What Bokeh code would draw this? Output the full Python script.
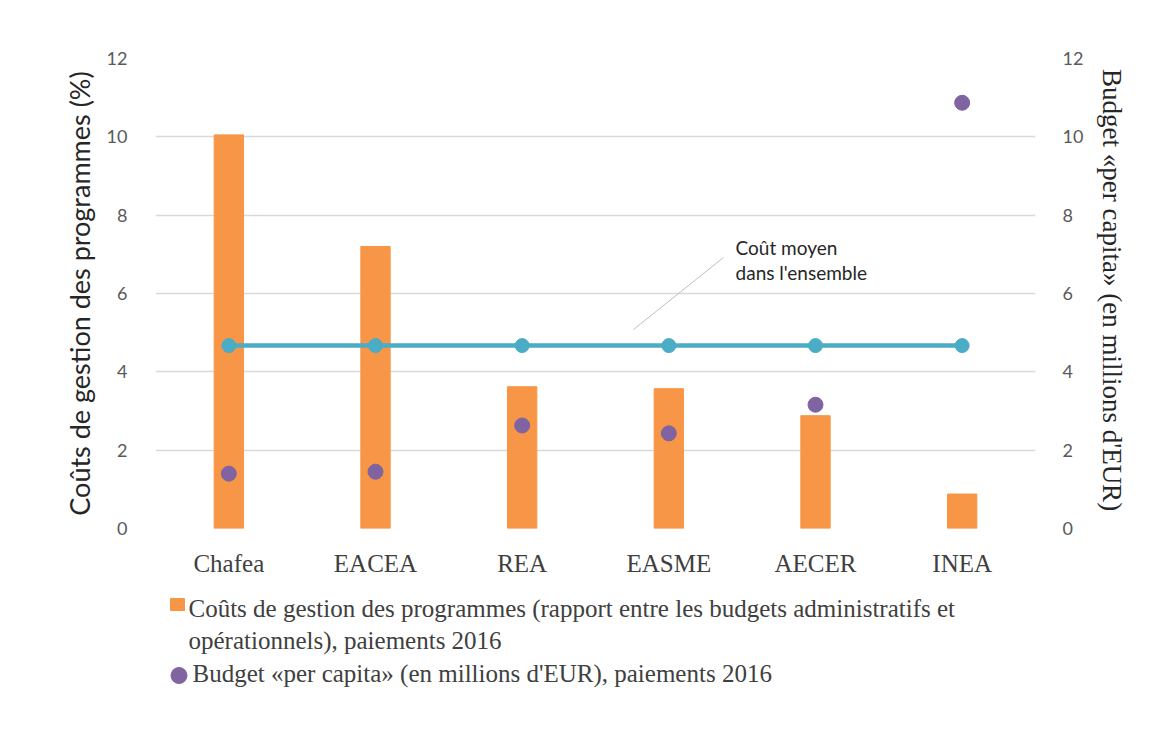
from bokeh.plotting import figure
from bokeh.layouts import column
from bokeh.models import (Range1d, FactorRange, LinearAxis, FixedTicker, Label,
                          ColumnDataSource, Segment)
from bokeh.embed import file_html
from bokeh.resources import INLINE

categories = ["Chafea", "EACEA", "REA", "EASME", "AECER", "INEA"]
cost_pct = [10.05, 7.2, 3.62, 3.57, 2.88, 0.88]
budget_per_capita = [1.40, 1.45, 2.63, 2.43, 3.16, 10.87]
avg_cost = [4.67, 4.67, 4.67, 4.67, 4.67, 4.67]
y_ticks = [0, 2, 4, 6, 8, 10, 12]

left_title = "Coûts de gestion des programmes (%)"
right_title = "Budget «per capita» (en millions  d'EUR)"
legend_bar_lines = ["Coûts de gestion des programmes (rapport entre les budgets administratifs et",
                    "opérationnels), paiements 2016"]
legend_dot = "Budget «per capita» (en millions d'EUR), paiements 2016"
note_lines = ["Coût moyen", "dans l'ensemble"]

ORANGE = "#F79646"
PURPLE = "#8064A2"
TEAL = "#4BACC6"
GRID = "#D9D9D9"
TICK = "#595959"
SERIF = "Liberation Serif"
SANS = "Lato"

W = 1160
src = ColumnDataSource(dict(cat=categories, cost=cost_pct, budget=budget_per_capita, avg=avg_cost))

p = figure(x_range=FactorRange(*categories, range_padding=0), y_range=Range1d(0, 12),
           width=W, height=588, output_backend="svg", toolbar_location=None,
           min_border_left=155, min_border_right=125, min_border_top=58, min_border_bottom=60)
p.frame_align = False
p.extra_y_ranges = {"right": Range1d(0, 12)}
p.outline_line_color = None
p.background_fill_color = "white"
p.border_fill_color = "white"

p.vbar(x="cat", top="cost", width=0.2, source=src, color=ORANGE)
p.line(x="cat", y="avg", source=src, line_color=TEAL, line_width=4.5)
p.scatter(x="cat", y="avg", source=src, size=14, color=TEAL)
p.scatter(x="cat", y="budget", source=src, size=15, color=PURPLE, y_range_name="right")

p.xgrid.grid_line_color = None
p.ygrid.grid_line_color = GRID
p.ygrid.grid_line_width = 1.5
p.yaxis.ticker = FixedTicker(ticks=y_ticks)

ax = p.yaxis[0]
ax.axis_line_color = None
ax.major_tick_line_color = None
ax.minor_tick_line_color = None
ax.major_label_text_font = SANS
ax.major_label_text_font_size = "18px"
ax.major_label_text_color = TICK
ax.major_label_standoff = 22
ax.axis_label = left_title
ax.axis_label_text_font = SANS
ax.axis_label_text_font_style = "normal"
ax.axis_label_text_font_size = "27px"
ax.axis_label_text_color = "#262626"
ax.axis_label_standoff = 8

r_ax = LinearAxis(y_range_name="right", ticker=FixedTicker(ticks=y_ticks))
r_ax.axis_line_color = None
r_ax.major_tick_line_color = None
r_ax.minor_tick_line_color = None
r_ax.major_label_text_font = SANS
r_ax.major_label_text_font_size = "18px"
r_ax.major_label_text_color = TICK
r_ax.major_label_standoff = 21
r_ax.axis_label = right_title
r_ax.axis_label_text_font = SERIF
r_ax.axis_label_text_font_style = "normal"
r_ax.axis_label_text_font_size = "27px"
r_ax.axis_label_text_color = "#262626"
r_ax.axis_label_standoff = 11
p.add_layout(r_ax, "right")

xa = p.xaxis[0]
xa.axis_line_color = None
xa.major_tick_line_color = None
xa.minor_tick_line_color = None
xa.major_label_text_font = SERIF
xa.major_label_text_font_size = "25px"
xa.major_label_text_color = "#404040"
xa.major_label_standoff = 15

# annotation "Coût moyen dans l'ensemble"
NOTE_X = 3.955
NOTE_Y = [7.17, 6.54]
for t, yy in zip(note_lines, NOTE_Y):
    p.add_layout(Label(x=NOTE_X, y=yy, text=t, text_font=SANS, text_font_size="19px",
                       text_color="#262626", text_baseline="alphabetic"))
LEADER = dict(x0=[3.873], y0=[6.92], x1=[3.259], y1=[5.08])
p.add_glyph(ColumnDataSource(LEADER), Segment(x0="x0", y0="y0", x1="x1", y1="y1",
                                             line_color="#BFBFBF", line_width=1))

# legend panel (pixel coordinates, y measured from the top)
LH = 140
leg = figure(x_range=Range1d(0, W), y_range=Range1d(LH, 0), width=W, height=LH,
             output_backend="svg", toolbar_location=None, min_border=0)
leg.frame_align = False
leg.axis.visible = False
leg.grid.visible = False
leg.outline_line_color = None
leg.border_fill_color = "white"

SQ = dict(x=[177], y=[16], w=[14], h=[12])
leg.rect(x="x", y="y", width="w", height="h", source=ColumnDataSource(SQ), color=ORANGE)
DOT = dict(x=[178.5], y=[87])
leg.scatter(x="x", y="y", source=ColumnDataSource(DOT), size=16, color=PURPLE)
TXT = dict(x=[188, 188, 192], y=[20, 52, 85], t=legend_bar_lines + [legend_dot])
leg.text(x="x", y="y", text="t", source=ColumnDataSource(TXT), text_font=SERIF,
         text_font_size="25px", text_color="#404040", text_baseline="alphabetic")

layout = column(p, leg, spacing=0)
open("out.html", "w").write(file_html(layout, INLINE))
